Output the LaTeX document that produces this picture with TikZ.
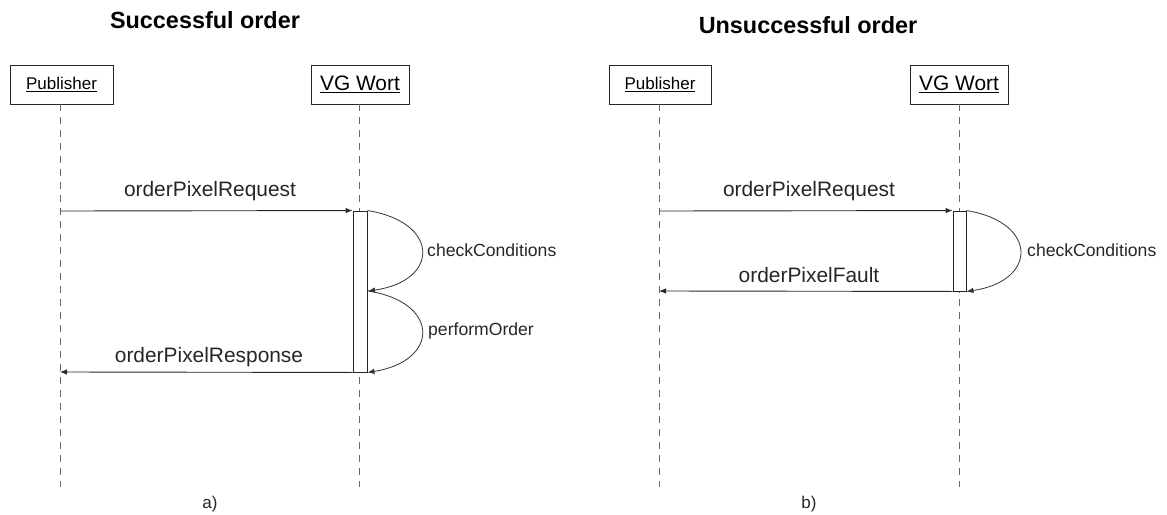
\documentclass[tikz,border=0pt]{standalone}
\usepackage{fontspec}
\setmainfont{Liberation Sans}
\usetikzlibrary{arrows.meta}
\tikzset{
  actor/.style={draw=black!85, line width=0.9pt, inner sep=0pt, minimum height=39pt, font=\fontsize{17}{20}\selectfont},
  lifeline/.style={draw=black!60, line width=0.9pt, dash pattern=on 7pt off 6pt},
  bar/.style={draw=black!85, fill=white, line width=0.9pt, inner sep=0pt, minimum width=14pt},
  msg/.style={draw=black!85, line width=0.9pt, -{Latex[length=7pt,width=5.5pt]}},
  selfmsg/.style={draw=black!80, line width=0.8pt, -{Latex[length=7pt,width=5.5pt]}},
  lbl/.style={font=\fontsize{20.9}{24}\selectfont, anchor=base, inner sep=0pt, text=black!85},
  slbl/.style={font=\fontsize{17.6}{21}\selectfont, anchor=west, inner sep=0pt, text=black!85},
  ttl/.style={font=\fontsize{23.4}{27}\selectfont\bfseries, anchor=base, inner sep=0pt},
  caption/.style={font=\fontsize{17}{20}\selectfont, anchor=base, inner sep=0pt, text=black!85}
}
\begin{document}
\begin{tikzpicture}[x=1pt,y=-1pt]
\useasboundingbox (0,0) rectangle (1167,514);
% ---------- a) ----------
\node[ttl] (tA) at (205,28) {Successful order};
\node[actor, minimum width=103pt] (pubA) at (61.5,84.5) {\underline{Publisher}};
\node[actor, minimum width=98pt, font=\fontsize{20.9}{24}\selectfont] (vgA) at (360,84.5) {\underline{VG Wort}};
\coordinate (pubAend) at (60,487);
\coordinate (vgAend) at (359,487);
\draw[lifeline] (pubA.south -| pubAend) -- (pubAend);
\draw[lifeline] (vgA.south -| vgAend) -- (vgAend);
\node[bar, minimum height=161pt] (barA) at (360,291.5) {};
\coordinate (reqAs) at (60,211);
\coordinate (resAe) at (60,372);
\coordinate (ccA) at (368,291);
\draw[msg] (reqAs) -- (barA.north west);
\node[lbl] (reqAl) at (210,196) {orderPixelRequest};
\draw[selfmsg] (barA.north east) .. controls (440,222) and (440,281) .. (ccA);
\node[slbl] (ccAl) at (427,250) {checkConditions};
\draw[selfmsg] (ccA) .. controls (440,302) and (440,361) .. (barA.south east);
\node[slbl] (poAl) at (428,331) {performOrder};
\draw[msg] (barA.south west) -- (resAe);
\node[lbl] (resAl) at (209,362) {orderPixelResponse};
\node[caption] (capA) at (210,508) {a)};
% ---------- b) ----------
\node[ttl] (tB) at (808,33) {Unsuccessful order};
\node[actor, minimum width=102pt] (pubB) at (660,84.5) {\underline{Publisher}};
\node[actor, minimum width=98pt, font=\fontsize{20.9}{24}\selectfont] (vgB) at (959,84.5) {\underline{VG Wort}};
\coordinate (pubBend) at (659,487);
\coordinate (vgBend) at (959,487);
\draw[lifeline] (pubB.south -| pubBend) -- (pubBend);
\draw[lifeline] (vgB.south -| vgBend) -- (vgBend);
\node[bar, minimum height=80pt, minimum width=13pt] (barB) at (959.5,251) {};
\coordinate (reqBs) at (659,211);
\coordinate (fltBe) at (659,291);
\draw[msg] (reqBs) -- (barB.north west);
\node[lbl] (reqBl) at (809,196) {orderPixelRequest};
\draw[selfmsg] (barB.north east) .. controls (1038,222) and (1038,281) .. (barB.south east);
\node[slbl] (ccBl) at (1027,250) {checkConditions};
\draw[msg] (barB.south west) -- (fltBe);
\node[lbl] (fltBl) at (809,282) {orderPixelFault};
\node[caption] (capB) at (809,508) {b)};
\end{tikzpicture}
\end{document}
